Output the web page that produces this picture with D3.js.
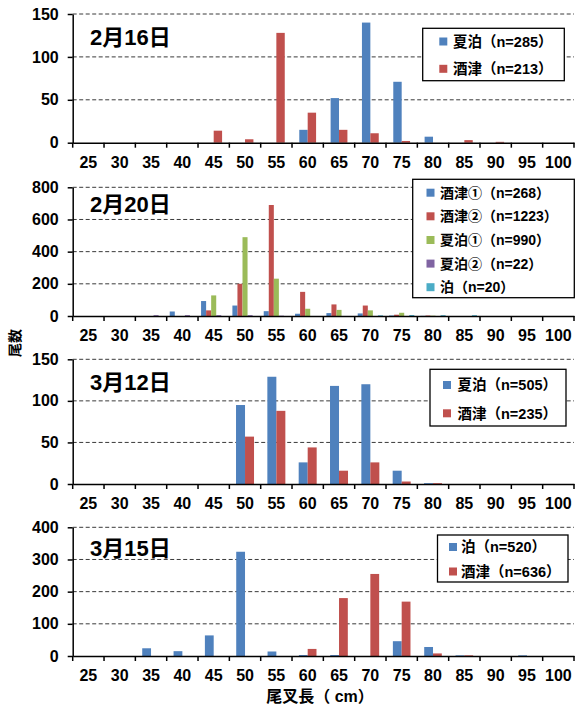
<!DOCTYPE html>
<html>
<head>
<meta charset="utf-8">
<script src="https://cdn.jsdelivr.net/npm/d3@7"></script>
<style>
  body { margin: 0; background: #fff; }
  text { font-family: "Liberation Sans", "Noto Sans CJK JP", sans-serif; font-weight: bold; fill: #000; }
</style>
</head>
<body>
<div id="chart"></div>
<script>
// fork length classes (cm)
var lengths = [25, 30, 35, 40, 45, 50, 55, 60, 65, 70, 75, 80, 85, 90, 95, 100];

// 2月16日
var feb16Names = ["夏泊（n=285）", "酒津（n=213）"];
var feb16Natsudomari = [0, 0, 0, 0, 0, 0, 0, 15, 52, 140, 71, 7, 0, 0, 0, 0];
var feb16Sakitsu     = [0, 0, 0, 0, 14, 4, 128, 35, 15, 11, 2, 0, 3, 1, 0, 0];

// 2月20日
var feb20Names = ["酒津①（n=268）", "酒津②（n=1223）", "夏泊①（n=990）", "夏泊②（n=22）", "泊（n=20）"];
var feb20Sakitsu1     = [0, 0, 0, 28, 93, 65, 30, 14, 18, 16, 3, 1, 0, 0, 0, 0];
var feb20Sakitsu2     = [0, 0, 0, 0, 35, 200, 690, 150, 72, 65, 8, 3, 0, 0, 0, 0];
var feb20Natsudomari1 = [0, 0, 0, 0, 128, 490, 232, 45, 38, 35, 20, 2, 0, 0, 0, 0];
var feb20Natsudomari2 = [0, 0, 5, 5, 5, 5, 2, 0, 0, 0, 0, 0, 0, 0, 0, 0];
var feb20Tomari       = [0, 0, 0, 0, 0, 0, 0, 0, 0, 4, 6, 5, 5, 0, 0, 0];

// 3月12日
var mar12Names = ["夏泊（n=505）", "酒津（n=235）"];
var mar12Natsudomari = [0, 0, 0, 0, 0, 95, 129, 26, 118, 120, 16, 1, 0, 0, 0, 0];
var mar12Sakitsu     = [0, 0, 0, 0, 0, 57, 88, 44, 16, 26, 3, 1, 0, 0, 0, 0];

// 3月15日
var mar15Names = ["泊（n=520）", "酒津（n=636）"];
var mar15Tomari  = [0, 0, 24, 15, 64, 324, 14, 3, 3, 0, 46, 28, 2, 0, 2, 0];
var mar15Sakitsu = [0, 0, 0, 0, 0, 0, 0, 22, 180, 255, 169, 8, 2, 0, 0, 0];

var colors = ["#4F81BD", "#C0504D", "#9BBB59", "#8064A2", "#4BACC6"];

var panels = [
  { title: "2月16日", yMax: 150, yStep: 50, names: feb16Names,
    values: [feb16Natsudomari, feb16Sakitsu],
    top: 14, bottom: 142.7, titleY: 44.5, barW: 8.4,
    legend: { x0: 422.7, y0: 28.3, x1: 564.3, y1: 80.7, rows: [41.5, 68.8], mx: 439.3, tx: 453, fs: 14.5 } },
  { title: "2月20日", yMax: 800, yStep: 200, names: feb20Names,
    values: [feb20Sakitsu1, feb20Sakitsu2, feb20Natsudomari1, feb20Natsudomari2, feb20Tomari],
    top: 187.3, bottom: 316, titleY: 212, barW: 5.05,
    legend: { x0: 412.7, y0: 179.3, x1: 574.3, y1: 297.7, rows: [192.7, 216.3, 240, 263.6, 287.2], mx: 426.5, tx: 440, fs: 14 } },
  { title: "3月12日", yMax: 150, yStep: 50, names: mar12Names,
    values: [mar12Natsudomari, mar12Sakitsu],
    top: 359.3, bottom: 484, titleY: 390, barW: 9,
    legend: { x0: 430, y0: 369.3, x1: 566, y1: 426, rows: [385, 413.3], mx: 443, tx: 457.5, fs: 14.5 } },
  { title: "3月15日", yMax: 400, yStep: 100, names: mar15Names,
    values: [mar15Tomari, mar15Sakitsu],
    top: 527.3, bottom: 656, titleY: 556, barW: 8.8,
    legend: { x0: 437.5, y0: 535, x1: 568, y1: 582, rows: [547, 571.5], mx: 449, tx: 461, fs: 14.5 } }
];

var width = 576, height = 708;
var left = 72.7, right = 574;

var svg = d3.select("#chart").append("svg")
  .attr("width", width)
  .attr("height", height);

var x0 = d3.scaleBand().domain(lengths).range([left, right]);

panels.forEach(function(p) {
  var y = d3.scaleLinear().domain([0, p.yMax]).range([p.bottom, p.top]);
  var ticks = d3.range(0, p.yMax + 1, p.yStep);
  var g = svg.append("g");

  // dashed gridlines
  g.selectAll(".grid").data(ticks.filter(function(t) { return t > 0; }))
    .enter().append("line")
      .attr("x1", left).attr("x2", right)
      .attr("y1", function(d) { return y(d); })
      .attr("y2", function(d) { return y(d); })
      .attr("stroke", "#3a3a3a")
      .attr("stroke-width", 1)
      .attr("stroke-dasharray", "4,2.5");

  // bars
  var n = p.values.length;
  var groupW = p.barW * n;
  var x1 = d3.scaleBand().domain(d3.range(n))
    .range([(x0.bandwidth() - groupW) / 2, (x0.bandwidth() + groupW) / 2]);

  p.values.forEach(function(vals, si) {
    g.selectAll(".bar" + si).data(vals)
      .enter().append("rect")
        .attr("x", function(d, i) { return x0(lengths[i]) + x1(si); })
        .attr("width", x1.bandwidth())
        .attr("y", function(d) { return y(d); })
        .attr("height", function(d) { return y(0) - y(d); })
        .attr("fill", colors[si]);
  });

  // y axis
  var yAxis = g.append("g")
    .attr("transform", "translate(" + left + ",0)")
    .call(d3.axisLeft(y).tickValues(ticks).tickSize(5).tickSizeOuter(0).tickPadding(9));
  yAxis.select(".domain").attr("stroke", "#000").attr("stroke-width", 1.5);
  yAxis.selectAll(".tick line").attr("stroke", "#000").attr("stroke-width", 1.5);
  yAxis.selectAll("text").attr("font-size", 16).style("font-family", null);

  // x axis with labels at category centres
  var xAxis = g.append("g")
    .attr("transform", "translate(0," + p.bottom + ")")
    .call(d3.axisBottom(x0).tickSize(0).tickPadding(14));
  xAxis.select(".domain").attr("stroke", "#000").attr("stroke-width", 1.5);
  xAxis.selectAll("text").attr("font-size", 16);

  // tick marks at category boundaries
  var edges = lengths.map(function(c) { return x0(c); }).concat([right]);
  g.selectAll(".edge").data(edges)
    .enter().append("line")
      .attr("x1", function(d) { return d; }).attr("x2", function(d) { return d; })
      .attr("y1", p.bottom).attr("y2", p.bottom + 5)
      .attr("stroke", "#000").attr("stroke-width", 1.5);

  // panel title
  g.append("text")
    .attr("x", 90).attr("y", p.titleY)
    .attr("font-size", 22)
    .text(p.title);

  // legend
  var L = p.legend;
  g.append("rect")
    .attr("x", L.x0).attr("y", L.y0)
    .attr("width", L.x1 - L.x0).attr("height", L.y1 - L.y0)
    .attr("fill", "#fff").attr("stroke", "#000").attr("stroke-width", 1.3);
  p.names.forEach(function(name, i) {
    g.append("rect")
      .attr("x", L.mx).attr("y", L.rows[i] - 4)
      .attr("width", 8).attr("height", 8)
      .attr("fill", colors[i]);
    g.append("text")
      .attr("x", L.tx).attr("y", L.rows[i])
      .attr("dy", "0.36em")
      .attr("font-size", L.fs)
      .text(name);
  });
});

// axis titles
svg.append("text")
  .attr("transform", "translate(20,343) rotate(-90)")
  .attr("text-anchor", "middle")
  .attr("font-size", 14)
  .text("尾数");

svg.append("text")
  .attr("x", 320).attr("y", 702)
  .attr("text-anchor", "middle")
  .attr("font-size", 16)
  .text("尾叉長（ cm）");
</script>
</body>
</html>
